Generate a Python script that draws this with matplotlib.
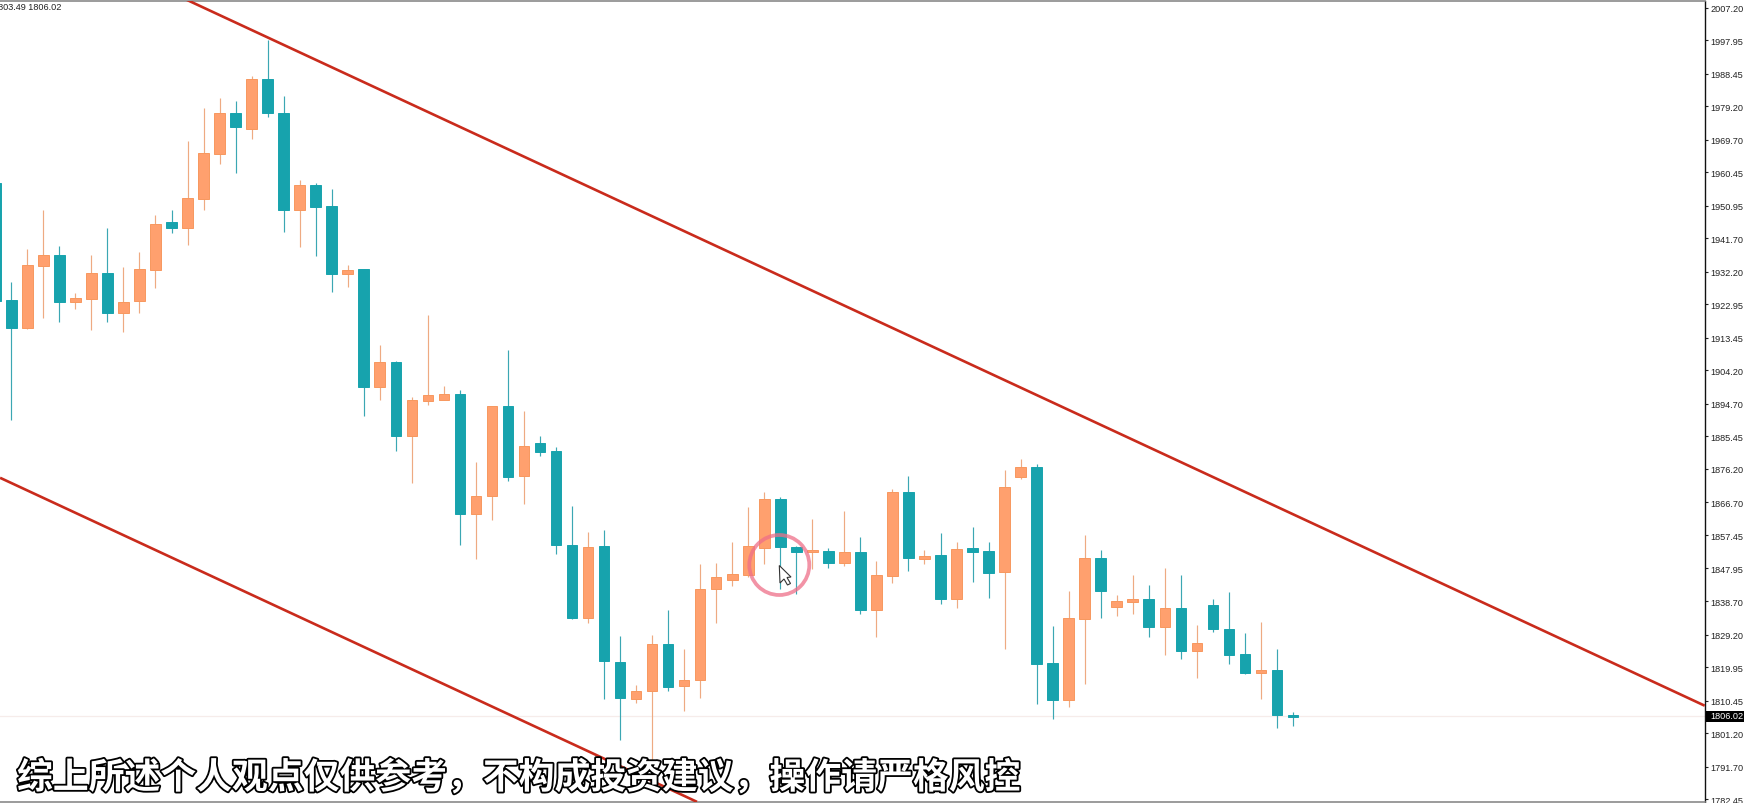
import matplotlib
matplotlib.use("Agg")
import matplotlib.pyplot as plt
import matplotlib.patheffects as pe
from matplotlib.patches import Circle, Polygon
import numpy as np

opens = [1957.5, 1924.1, 1916.2, 1933.8, 1936.9, 1923.6, 1924.5, 1931.8, 1920.5, 1923.9, 1932.7,
         1946.3, 1944.6, 1952.9, 1965.6, 1977.2, 1972.8, 1986.8, 1977.4, 1949.7, 1956.7, 1950.8,
         1931.6, 1932.9, 1899.6, 1906.5, 1885.5, 1895.6, 1895.9, 1897.4, 1863.3, 1868.4, 1894.0,
         1874.1, 1883.6, 1881.2, 1854.6, 1833.9, 1854.2, 1821.5, 1810.9, 1813.1, 1826.6, 1814.5,
         1816.2, 1842.0, 1844.8, 1846.2, 1853.9, 1867.8, 1854.0, 1852.6, 1852.8, 1849.5, 1852.5,
         1836.1, 1845.9, 1869.8, 1850.7, 1851.7, 1839.3, 1853.7, 1852.8, 1847.0, 1874.0, 1876.9,
         1821.0, 1810.6, 1833.6, 1850.8, 1837.1, 1838.4, 1839.2, 1831.3, 1836.6, 1824.6, 1837.7,
         1830.9, 1823.6, 1818.3, 1819.0, 1806.4]
closes = [1923.9, 1916.2, 1934.0, 1936.9, 1923.6, 1924.7, 1931.8, 1920.5, 1923.7, 1932.9, 1945.7,
          1944.6, 1953.0, 1965.8, 1977.2, 1973.4, 1986.8, 1977.3, 1949.7, 1956.7, 1950.7, 1931.6,
          1932.6, 1899.5, 1906.5, 1885.7, 1895.7, 1897.1, 1897.4, 1863.3, 1868.5, 1894.0, 1874.0,
          1882.7, 1881.0, 1854.5, 1833.8, 1854.1, 1821.7, 1811.2, 1813.3, 1826.6, 1814.4, 1816.4,
          1842.1, 1845.6, 1846.4, 1854.2, 1867.8, 1854.0, 1852.7, 1853.3, 1849.5, 1852.5, 1836.1,
          1846.1, 1869.8, 1851.0, 1851.5, 1839.3, 1853.6, 1852.6, 1846.6, 1871.2, 1876.9, 1820.8,
          1810.6, 1833.8, 1850.8, 1841.5, 1838.6, 1839.2, 1831.3, 1836.6, 1824.5, 1826.7, 1830.7,
          1823.4, 1818.2, 1819.0, 1806.3, 1805.9]
highs = [1957.5, 1929.4, 1938.6, 1949.7, 1939.4, 1926.1, 1936.9, 1944.5, 1933.5, 1937.8, 1948.2,
         1949.7, 1969.3, 1978.7, 1981.5, 1980.6, 1987.9, 1998.0, 1982.1, 1958.2, 1957.3, 1955.6,
         1934.2, 1933.0, 1911.3, 1906.8, 1896.7, 1919.8, 1899.9, 1898.5, 1878.2, 1894.1, 1910.0,
         1892.7, 1885.6, 1882.4, 1865.7, 1858.3, 1858.9, 1828.9, 1815.0, 1829.2, 1836.3, 1825.0,
         1849.2, 1849.5, 1855.6, 1865.4, 1869.7, 1868.2, 1854.3, 1862.0, 1853.7, 1864.2, 1857.0,
         1850.0, 1870.6, 1874.2, 1853.3, 1858.0, 1855.4, 1859.7, 1855.4, 1875.9, 1879.0, 1877.6,
         1831.6, 1841.7, 1857.4, 1853.2, 1840.4, 1846.1, 1843.4, 1848.0, 1846.1, 1831.8, 1839.4,
         1841.2, 1829.5, 1832.7, 1825.0, 1807.3]
lows = [1923.9, 1890.1, 1915.9, 1919.1, 1918.0, 1921.6, 1915.7, 1918.0, 1915.1, 1920.5, 1927.6,
        1943.2, 1939.7, 1949.7, 1962.8, 1960.2, 1970.0, 1976.1, 1943.5, 1939.2, 1936.7, 1926.5,
        1927.9, 1891.3, 1895.9, 1881.4, 1872.1, 1894.4, 1895.7, 1854.5, 1850.6, 1861.6, 1872.7,
        1866.2, 1880.0, 1852.0, 1833.6, 1832.5, 1810.9, 1799.3, 1809.7, 1791.9, 1813.1, 1807.4,
        1811.1, 1832.4, 1842.9, 1845.4, 1849.3, 1842.1, 1840.7, 1847.8, 1848.1, 1848.6, 1835.0,
        1828.4, 1843.8, 1847.2, 1849.2, 1837.8, 1836.7, 1844.0, 1839.7, 1825.0, 1873.3, 1809.5,
        1805.2, 1808.5, 1815.1, 1833.9, 1834.4, 1835.0, 1828.4, 1823.4, 1822.2, 1816.8, 1830.0,
        1820.8, 1818.0, 1810.9, 1802.7, 1803.1]

tick_labels = ["2007.20", "1997.95", "1988.45", "1979.20", "1969.70", "1960.45", "1950.95", "1941.70",
               "1932.20", "1922.95", "1913.45", "1904.20", "1894.70", "1885.45", "1876.20", "1866.70",
               "1857.45", "1847.95", "1838.70", "1829.20", "1819.95", "1810.45", "1801.20", "1791.70",
               "1782.45"]
last_price = 1806.02

# trend channel, bar index / price
upper_x = [10.9, 105.7]
upper_y = [2009.5, 1809.0]
lower_x = [-0.7, 42.8]
lower_y = [1873.7, 1781.7]

subtitle = "综上所述个人观点仅供参考，不构成投资建议，操作请严格风控"
ohlc_text = "1803.49 1806.02"

TEAL = "#17a3ad"
ORANGE = "#ffa06e"
ORANGE_EDGE = "#f7985f"
TEAL_WICK = "#3ba7b3"
ORANGE_WICK = "#eeaa82"
RED = "#c92b1c"

W, H = 1744, 804
fig = plt.figure(figsize=(W / 100, H / 100), dpi=100, facecolor="white")
ax = fig.add_axes([0, 1.5 / H, 1704.7 / W, (H - 3) / H])

n = len(opens)
xs = np.arange(n) - 1
o = np.array(opens)
c = np.array(closes)
up = c >= o

for mask, body, edge, wick in [(up, ORANGE, ORANGE_EDGE, ORANGE_WICK), (~up, TEAL, TEAL, TEAL_WICK)]:
    ax.vlines(xs[mask], np.array(lows)[mask], np.array(highs)[mask], color=wick, lw=0.85, zorder=2)
    ax.bar(xs[mask], np.abs(c - o)[mask], bottom=np.minimum(o, c)[mask], width=0.66,
           color=body, edgecolor=edge, linewidth=0.7, zorder=3)

ax.axhline(last_price, color="#f6ecea", lw=0.9, zorder=1)
ax.plot(upper_x, upper_y, color=RED, lw=1.9, zorder=4, solid_capstyle="butt")
ax.plot(lower_x, lower_y, color=RED, lw=1.9, zorder=4, solid_capstyle="butt")

ax.set_xlim(-0.705, 105.7)
ax.set_ylim(1781.8, 2009.2)
ax.set_xticks([])
ax.yaxis.tick_right()
ax.set_yticks([float(t) for t in tick_labels])
ax.set_yticklabels(tick_labels, family="Liberation Sans", fontsize=6.6, color="#222222")
ax.tick_params(axis="y", length=2, width=0.8, pad=2, color="#222222")
ax.spines["left"].set_visible(False)
ax.spines["right"].set_color("#111111")
ax.spines["right"].set_linewidth(1.0)
ax.spines["top"].set_color("#8a8a8a")
ax.spines["top"].set_linewidth(1.2)
ax.spines["bottom"].set_color("#8a8a8a")
ax.spines["bottom"].set_linewidth(1.2)

# overlay in screen pixels for the video bits: cursor ring, caption, price box
ov = fig.add_axes([0, 0, 1, 1], facecolor="none")
ov.set_xlim(0, W)
ov.set_ylim(H, 0)
ov.axis("off")

ov.add_patch(Circle((779.3, 566), 30, fill=False, edgecolor="#ee6f88", lw=2.7, alpha=0.75, zorder=5))
ov.add_patch(Polygon([(779.3, 566.5), (780, 584), (784, 580), (787.5, 586), (790.5, 584.5),
                      (787, 578.5), (791, 578)], closed=True, facecolor="white",
                     edgecolor="#333333", lw=0.8, zorder=6))

ov.text(61, 8, ohlc_text, ha="right", va="center", family="Liberation Sans", fontsize=6.6,
        color="#222222", clip_on=False)

ov.add_patch(Polygon([(1706, 711.5), (1744, 711.5), (1744, 722.5), (1706, 722.5)], closed=True,
                     facecolor="black", edgecolor="none", zorder=5))
ov.text(1710, 717, "%.2f" % last_price, ha="left", va="center", family="Liberation Sans",
        fontsize=6.6, color="white", zorder=6)

ov.text(17, 779, subtitle, ha="left", va="center", fontsize=25.8, color="white", fontweight="bold",
        family=["Noto Sans CJK SC", "DejaVu Sans"], zorder=7,
        path_effects=[pe.withStroke(linewidth=2.6, foreground="black")])

fig.savefig("out.png", dpi=100, facecolor="white")
